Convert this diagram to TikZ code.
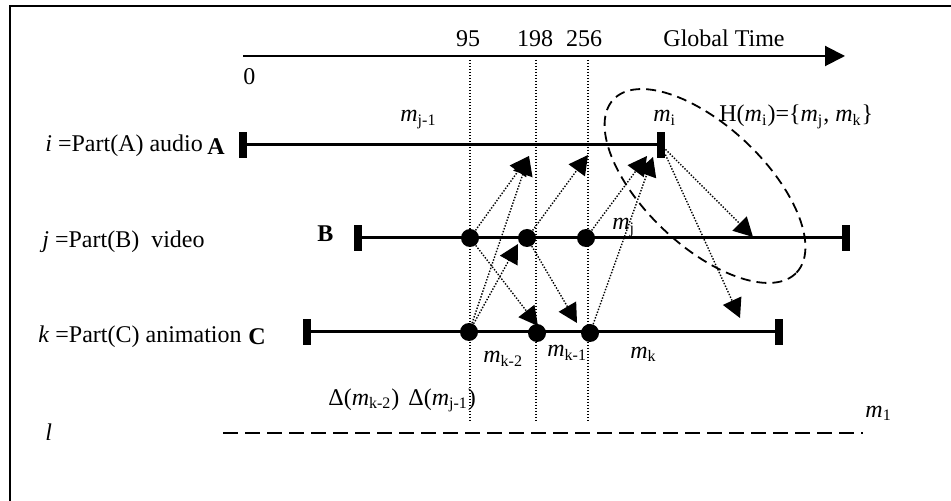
\documentclass[tikz,border=0pt]{standalone}
\usepackage{fontspec}
\setmainfont{Liberation Serif}
\usetikzlibrary{arrows.meta,shapes.geometric}
\newcommand{\mm}[1]{\textit{m}\textsubscript{#1}}
\tikzset{
  bar/.style   = {rectangle, fill=black, inner sep=0pt, minimum width=4pt, minimum height=13pt},
  dot/.style   = {circle, fill=black, inner sep=0pt, minimum size=9pt},
  track/.style = {line width=1.5pt},
  guide/.style = {line width=0.7pt, dash pattern=on 0.7pt off 0.8pt},
  flow/.style  = {-{Triangle[length=9.5pt, width=10pt]}, line width=0.7pt, dash pattern=on 0.7pt off 0.8pt},
  axis/.style  = {-{Triangle[length=10pt, width=10pt]}, line width=1pt},
  hull/.style  = {ellipse, draw, line width=0.9pt, dash pattern=on 5pt off 3pt, inner sep=0pt,
                  minimum width=126pt, minimum height=60pt},
  lline/.style = {line width=1pt, dash pattern=on 7.5pt off 3.5pt},
  lbl/.style   = {anchor=base west, inner sep=0pt},
}

\begin{document}
\begin{tikzpicture}[x=0.5pt, y=-0.5pt, font=\fontsize{12}{14}\selectfont]
  \useasboundingbox (0,0) rectangle (951,501);
  \draw[line width=1pt] (951,6) -- (10,6) -- (10,501);

  \coordinate (t0) at (243,56);
  \coordinate (t1) at (845,56);
  \draw[axis] (t0) -- (t1);
  \node[lbl] (zero) at (243,85) {0};
  \node[lbl, anchor=base] (n95) at (468,47) {95};
  \node[lbl, anchor=base] (n198) at (535,47) {198};
  \node[lbl, anchor=base] (n256) at (584,47) {256};
  \node[lbl, anchor=base] (gt) at (724,47) {Global Time};

  \foreach \x in {470,536,588}
    \draw[guide] (\x,60) -- (\x,422);

  \node[bar] (A0) at (243,145) {};
  \node[bar] (A1) at (661,145) {};
  \node[bar] (B0) at (358,238) {};
  \node[bar] (B1) at (846,238) {};
  \node[bar] (C0) at (307,332) {};
  \node[bar] (C1) at (779,332) {};
  \draw[track] (A0) -- (A1);
  \draw[track] (B0) -- (B1);
  \draw[track] (C0) -- (C1);

  \node[lbl] (la) at (45,152) {\textit{i} =Part(A) audio};
  \node[lbl] (ha) at (207,155) {\textbf{A}};
  \node[lbl] (lb) at (42,248) {\textit{j} =Part(B)\ \ video};
  \node[lbl] (hb) at (317,242) {\textbf{B}};
  \node[lbl] (lc) at (38,343) {\textit{k} =Part(C) animation};
  \node[lbl] (hc) at (248,345) {\textbf{C}};
  \node[lbl] (ll) at (45,440) {\textit{l}};

  \node[dot] (b1) at (470,238) {};
  \node[dot] (b2) at (527,238) {};
  \node[dot] (b3) at (586,238) {};
  \node[dot] (c1) at (469,332) {};
  \node[dot] (c2) at (537,333) {};
  \node[dot] (c3) at (590,333) {};

  \coordinate (pa1) at (529,156);
  \coordinate (pa2) at (588,155);
  \coordinate (pa3) at (647,156);
  \coordinate (pa4) at (653,157);
  \coordinate (pb1) at (518,244);
  \coordinate (pb2) at (753,237);
  \coordinate (pc1) at (538,326);
  \coordinate (pc2) at (577,323);
  \coordinate (pc3) at (740,318);
  \draw[flow] (b1) -- (pa1);
  \draw[flow] (c1) -- (pa1);
  \draw[flow] (b2) -- (pa2);
  \draw[flow] (b3) -- (pa3);
  \draw[flow] (c3) -- (pa4);
  \draw[flow] (c1) -- (pb1);
  \draw[flow] (b1) -- (pc1);
  \draw[flow] (b2) -- (pc2);
  \draw[flow] (A1) -- (pb2);
  \draw[flow] (A1) -- (pc3);

  \node[hull, rotate=-43.4] (hset) at (705,186) {};

  \node[lbl] (mj1) at (400,122) {\mm{j-1}};
  \node[lbl] (mi) at (653,122) {\mm{i}};
  \node[lbl] (hm) at (719,122) {H(\mm{i})=\{\mm{j}, \mm{k}\}};
  \node[lbl] (mj) at (612,230) {\mm{j}};
  \node[lbl] (mk2) at (483,363) {\mm{k-2}};
  \node[lbl] (mk1) at (547,357) {\mm{k-1}};
  \node[lbl] (mk) at (630,358) {\mm{k}};
  \node[lbl] (dk) at (328,405) {Δ(\mm{k-2})};
  \node[lbl] (dj) at (408,405) {Δ(\mm{j-1})};
  \node[lbl] (m1) at (865,417) {\mm{1}};

  \coordinate (l0) at (223,433);
  \coordinate (l1) at (863,433);
  \draw[lline] (l0) -- (l1);
\end{tikzpicture}
\end{document}
